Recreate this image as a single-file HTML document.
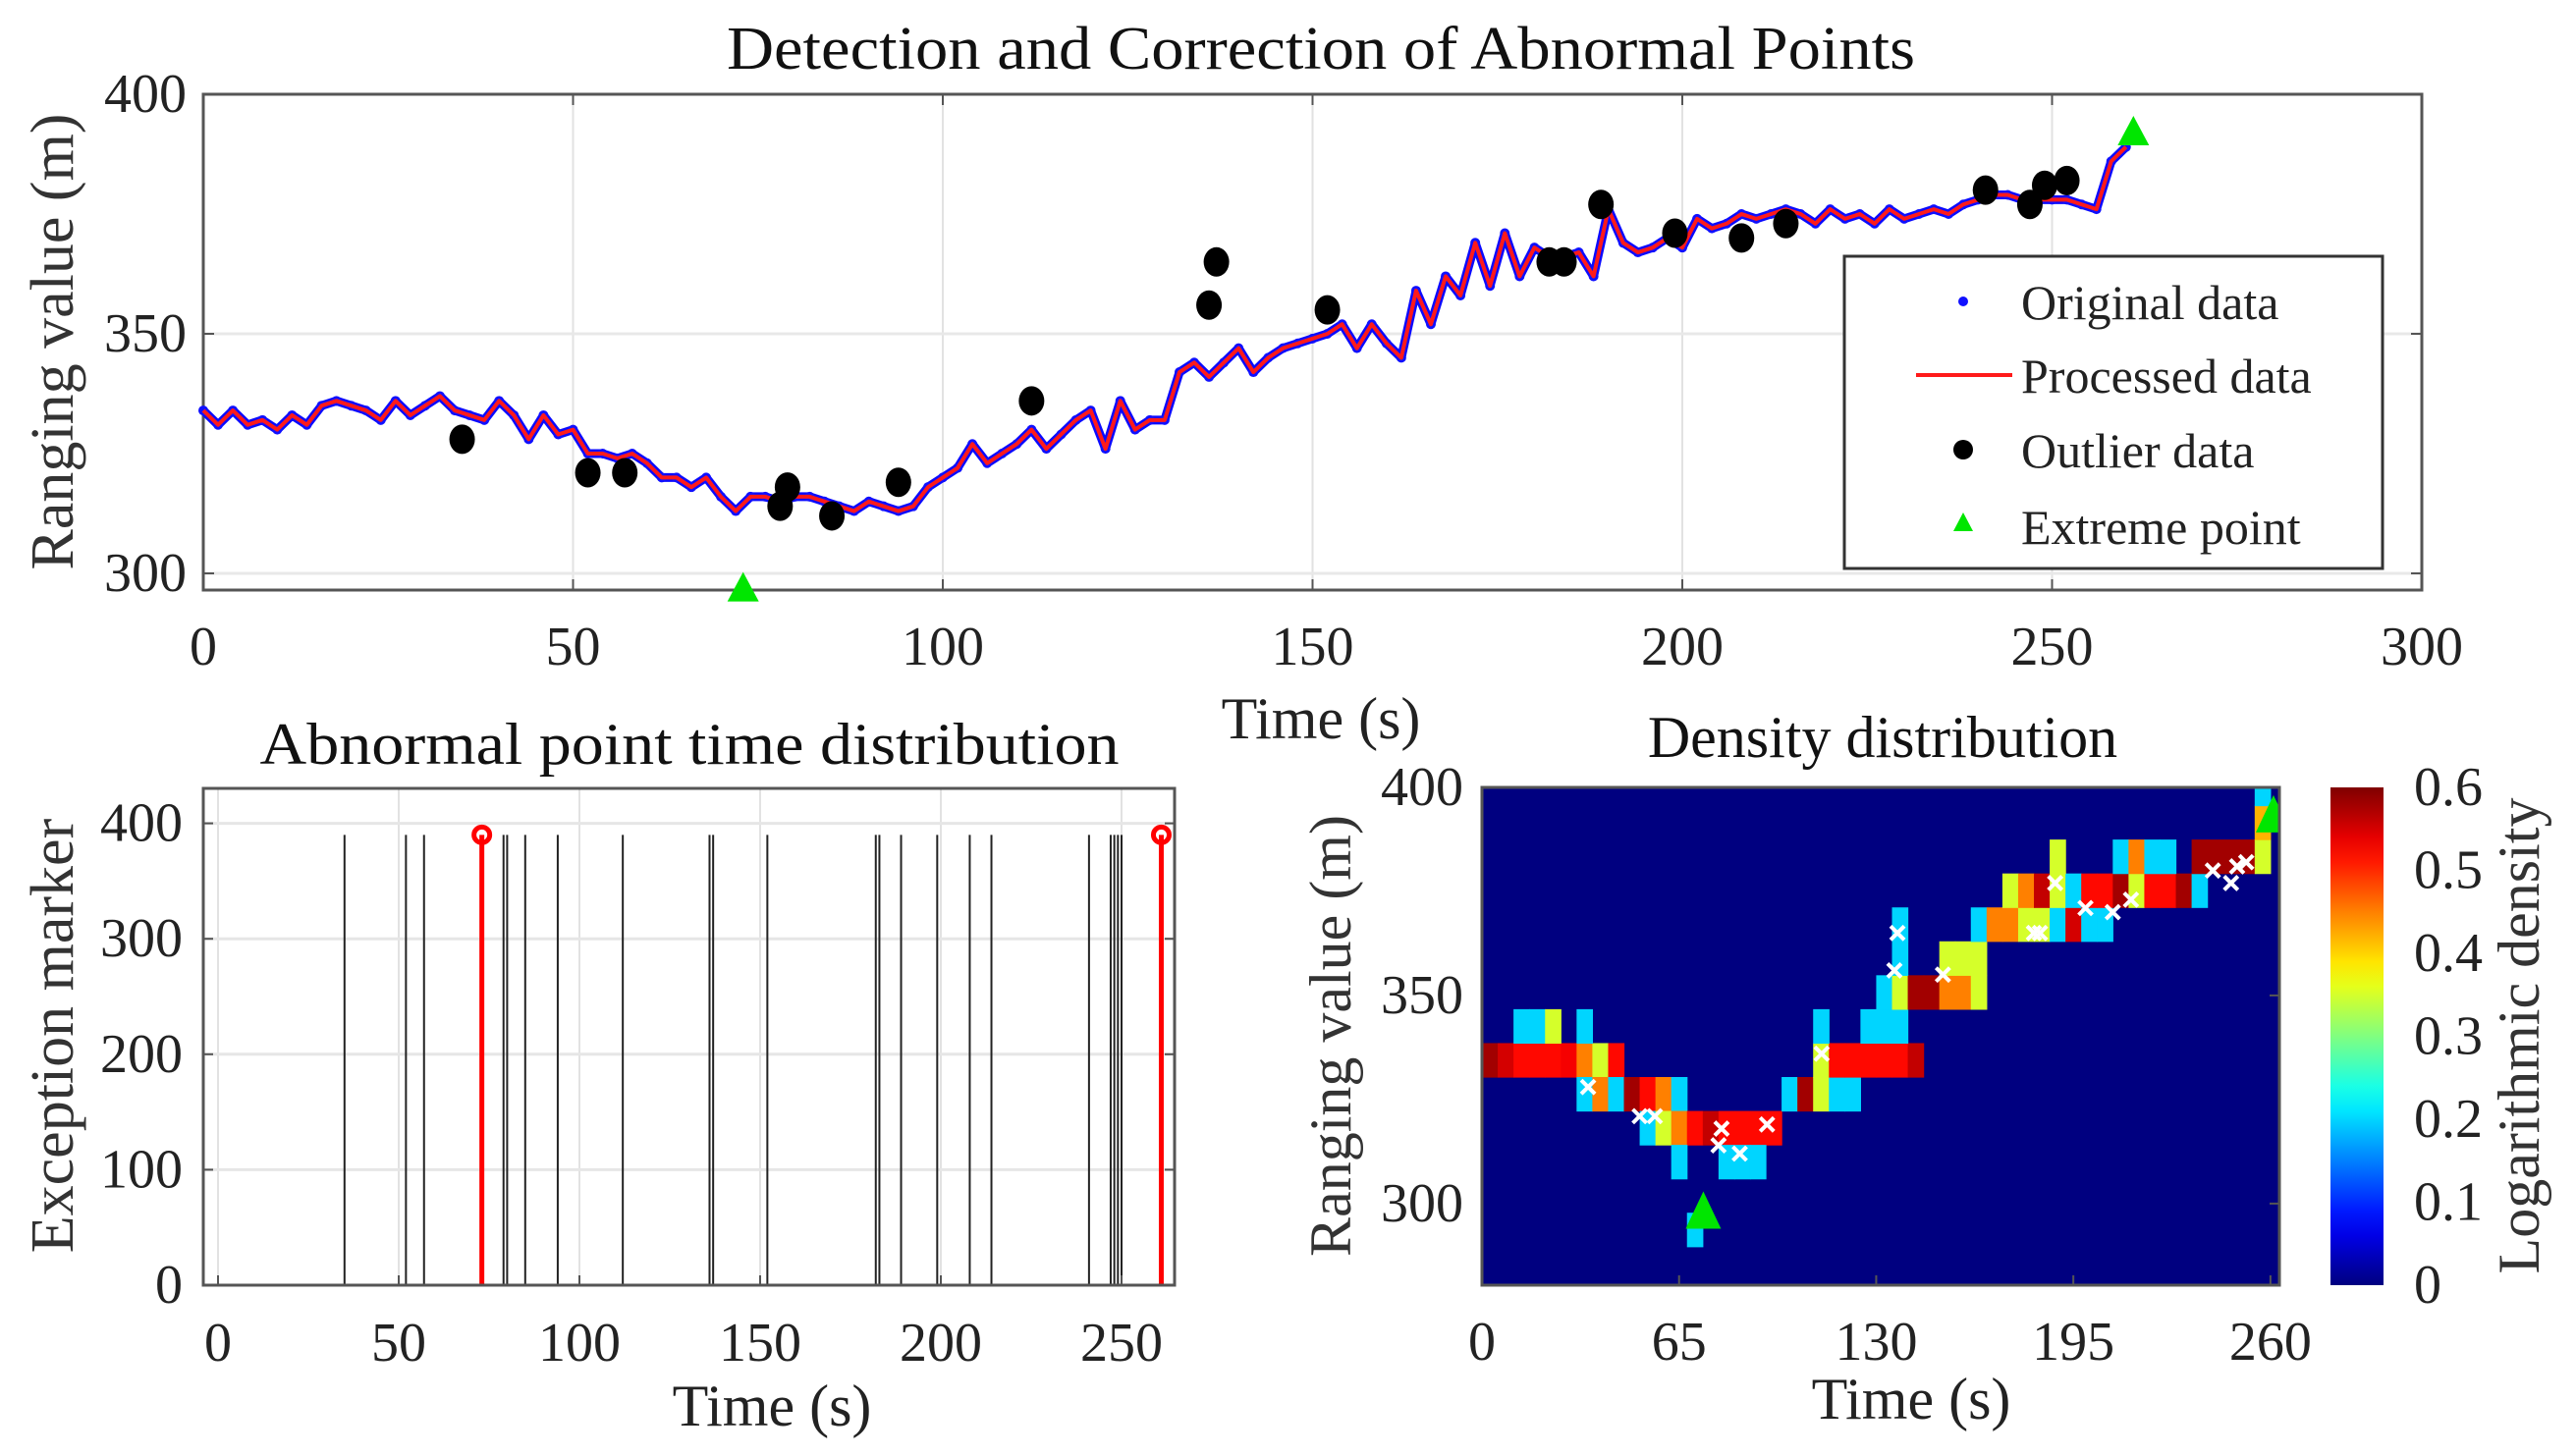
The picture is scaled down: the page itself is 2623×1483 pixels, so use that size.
<!DOCTYPE html>
<html><head><meta charset="utf-8"><style>
html,body{margin:0;padding:0;background:#fff;}
svg{display:block;font-family:"Liberation Serif",serif;}
</style></head><body>
<svg id="fig" width="2623" height="1483" viewBox="0 0 2623 1483" xmlns="http://www.w3.org/2000/svg"></svg>
<script>
// ---------- data ----------
const seriesTime = [0,2,4,6,8,10,12,14,16,18,20,22,24,26,28,30,32,34,36,38,40,42,44,46,48,50,52,54,56,58,60,62,64,66,68,70,72,74,76,78,80,82,84,86,88,90,92,94,96,98,100,102,104,106,108,110,112,114,116,118,120,122,124,126,128,130,132,134,136,138,140,142,144,146,148,150,152,154,156,158,160,162,164,166,168,170,172,174,176,178,180,182,184,186,188,190,192,194,196,198,200,202,204,206,208,210,212,214,216,218,220,222,224,226,228,230,232,234,236,238,240,242,244,246,248,250,252,254,256,258,260];
const seriesValue = [334,331,334,331,332,330,333,331,335,336,335,334,332,336,333,335,337,334,333,332,336,333,328,333,329,330,325,325,324,325,323,320,320,318,320,316,313,316,316,315,316,316,315,314,313,315,314,313,314,318,320,322,327,323,325,327,330,326,329,332,334,326,336,330,332,332,342,344,341,344,347,342,345,347,348,349,350,352,347,352,348,345,359,352,362,358,369,360,371,362,368,366,366,367,362,376,369,367,368,370,368,374,372,373,375,374,375,376,375,373,376,374,375,373,376,374,375,376,375,377,378,379,379,378,378,378,378,377,376,386,389];
const outlierTime = [35,52,57,78,79,85,94,112,136,137,152,182,184,189,199,208,214,241,247,249,252];
const outlierValue = [328,321,321,314,318,312,319,336,356,365,355,365,365,377,371,370,373,380,377,381,382];
const extremeTime = [73,261];
const extremeValue = [296.8,392];
const markerTime = [35,52,57,79,80,85,94,112,136,137,152,182,183,189,199,208,214,241,247,248,249,250];
const markerHeight = [390];
const extremeMarkerTime = [73,261];
const mainXTicks = [0,50,100,150,200,250,300];
const mainYTicks = [300,350,400];
const blXTicks = [0,50,100,150,200,250];
const blYTicks = [0,100,200,300,400];
const dXTicks = [0,65,130,195,260];
const dYTicks = [300,350,400];
const cbTicks = [0,0.1,0.2,0.3,0.4,0.5,0.6];
// density cells: column index (5.2 s bins), row index (8.15 m bins from 281.5), log density
const cellCol = [0,1,2,3,4,5,6,7,8, 2,3,4,6, 6,7,8,9,10,11,12, 10,11,12,13,14,15,16,17,18, 12,15,16,17, 13, 19,20,21,22,23, 21,22,23,24,25,26,27, 21,24,25,26, 25,26,27,28,29,30,31, 26,29,30,31, 26,31,32,33,34,35,36,37,38,39, 33,34,35,36,37,38,39,40,41,42,43,44,45, 36,40,41,42,43,45,46,47,48,49, 49,49];
const cellRow = [6,6,6,6,6,6,6,6,6, 7,7,7,7, 5,5,5,5,5,5,5, 4,4,4,4,4,4,4,4,4, 3,3,3,3, 1, 5,5,5,5,5, 6,6,6,6,6,6,6, 7,7,7,7, 8,8,8,8,8,8,8, 9,9,9,9, 10,10,10,10,10,10,10,10,10,10, 11,11,11,11,11,11,11,11,11,11,11,11,11, 12,12,12,12,12,12,12,12,12,12, 13,14];
const cellVal = [0.58,0.55,0.52,0.52,0.52,0.53,0.45,0.35,0.52, 0.2,0.2,0.35,0.2, 0.2,0.45,0.2,0.58,0.52,0.45,0.2, 0.2,0.35,0.45,0.52,0.56,0.52,0.52,0.52,0.52, 0.2,0.2,0.2,0.2, 0.2, 0.2,0.58,0.35,0.2,0.2, 0.35,0.52,0.52,0.52,0.52,0.52,0.56, 0.2,0.2,0.2,0.2, 0.2,0.35,0.58,0.58,0.45,0.45,0.35, 0.2,0.35,0.35,0.35, 0.2,0.2,0.45,0.45,0.35,0.35,0.2,0.55,0.2,0.2, 0.35,0.45,0.56,0.35,0.2,0.52,0.52,0.58,0.35,0.52,0.52,0.58,0.2, 0.35,0.2,0.45,0.2,0.2,0.58,0.58,0.58,0.58,0.35, 0.42,0.2];

// ---------- helpers ----------
const NS = 'http://www.w3.org/2000/svg';
const svg = document.getElementById('fig');
function mk(tag, attrs, parent){ const e=document.createElementNS(NS,tag); for(const k in attrs) e.setAttribute(k,attrs[k]); (parent||svg).appendChild(e); return e; }
function txt(s, attrs, parent){ const e=mk('text',attrs,parent); e.textContent=s; return e; }
function jet(v){ let t=Math.max(0,Math.min(1,v/0.6)); const c=x=>Math.round(255*Math.max(0,Math.min(1,x)));
  const r=c(1.5-Math.abs(4*t-3)), g=c(1.5-Math.abs(4*t-2)), b=c(1.5-Math.abs(4*t-1)); return `rgb(${r},${g},${b})`; }

// ---------- main plot ----------
const mx = t => 207 + t*7.53, my = v => 96 + (400-v)*4.88;
const gMain = mk('g',{});


mk('rect',{x:207,y:96,width:2259,height:505,fill:'#fff'},gMain);
mainXTicks.forEach(t=>{ if(t>0&&t<300){ const l=mk('line',{x1:mx(t),x2:mx(t),y1:96,y2:601,stroke:'#e2e2e2','stroke-width':2},gMain);   }});
mainYTicks.forEach(v=>{ if(v<400){ const l=mk('line',{x1:207,x2:2466,y1:my(v),y2:my(v),stroke:'#e8e8e8','stroke-width':3},gMain);   }});
mk('rect',{x:207,y:96,width:2259,height:505,fill:'none',stroke:'#555','stroke-width':3},gMain);
mainXTicks.forEach(t=>{ mk('line',{x1:mx(t),x2:mx(t),y1:601,y2:590,stroke:'#555','stroke-width':2},gMain); mk('line',{x1:mx(t),x2:mx(t),y1:96,y2:107,stroke:'#555','stroke-width':2},gMain);
  const e=txt(String(t),{x:mx(t),y:677,'font-size':56,'text-anchor':'middle',fill:'#222'},gMain);   });
mainYTicks.forEach(v=>{ mk('line',{x1:207,x2:218,y1:my(v),y2:my(v),stroke:'#555','stroke-width':2},gMain); mk('line',{x1:2466,x2:2455,y1:my(v),y2:my(v),stroke:'#555','stroke-width':2},gMain);
  const e=txt(String(v),{x:190,y:my(v)+18,'font-size':56,'text-anchor':'end',fill:'#222'},gMain);   });
const pts = seriesTime.map((t,i)=>mx(t)+','+my(seriesValue[i])).join(' ');
const pl = mk('polyline',{points:pts,fill:'none',stroke:'#0a0aff','stroke-width':9,'stroke-linejoin':'round'},gMain);
 
seriesTime.forEach((t,i)=>{ const c=mk('circle',{cx:mx(t),cy:my(seriesValue[i]),r:5,fill:'#1010ff'},gMain);   });
const rl = mk('polyline',{points:pts,fill:'none',stroke:'#ff1a1a','stroke-width':4,'stroke-linejoin':'round'},gMain);
 
outlierTime.forEach((t,i)=>{ const c=mk('ellipse',{cx:mx(t),cy:my(outlierValue[i]),rx:13,ry:15,fill:'#000'},gMain);   });
extremeTime.forEach((t,i)=>{ const x=mx(t), y=my(extremeValue[i]); const p=mk('polygon',{points:`${x},${y-17} ${x-16},${y+13} ${x+16},${y+13}`,fill:'#00e600'},gMain);   });
// legend
const lg = mk('g',{},gMain);  
mk('rect',{x:1878,y:261,width:548,height:318,fill:'#fff',stroke:'#333','stroke-width':3},lg);
mk('circle',{cx:1999,cy:307,r:5,fill:'#1010ff'},lg);
mk('line',{x1:1951,x2:2049,y1:382,y2:382,stroke:'#ff1a1a','stroke-width':4},lg);
mk('circle',{cx:1999,cy:458,r:10,fill:'#000'},lg);
mk('polygon',{points:'1999,522 1989,541 2009,541',fill:'#00e600'},lg);
[['Original data',307],['Processed data',382],['Outlier data',458],['Extreme point',536]].forEach(([s,y])=>{ const e=txt(s,{x:2058,y:y+18,'font-size':50,fill:'#222'},lg);   });
let e;
e=txt('Detection and Correction of Abnormal Points',{x:1345,y:70,'font-size':62,'text-anchor':'middle',fill:'#111',textLength:1210,lengthAdjust:'spacingAndGlyphs'});  
e=txt('Ranging value (m)',{x:0,y:0,'font-size':62,'text-anchor':'middle',fill:'#333',transform:'translate(74,348) rotate(-90)'});  
e=txt('Time (s)',{x:1345,y:752,'font-size':60,'text-anchor':'middle',fill:'#222'});  

// ---------- bottom-left ----------
const bx = t => 222 + t*3.68, by = v => 1309 - v*1.176;
const gB = mk('g',{});  
blXTicks.forEach(t=>{ mk('line',{x1:bx(t),x2:bx(t),y1:803,y2:1309,stroke:'#e2e2e2','stroke-width':2},gB); });
blYTicks.forEach(v=>{ mk('line',{x1:207,x2:1196,y1:by(v),y2:by(v),stroke:'#e6e6e6','stroke-width':3},gB); });
markerTime.forEach(t=>{ const l=mk('line',{x1:bx(t),x2:bx(t),y1:by(0),y2:by(markerHeight[0]),stroke:'#222','stroke-width':2},gB);   });
extremeMarkerTime.forEach(t=>{ const l=mk('line',{x1:bx(t),x2:bx(t),y1:by(0),y2:by(markerHeight[0]),stroke:'#f00','stroke-width':5},gB);  
  const c=mk('circle',{cx:bx(t),cy:by(markerHeight[0]),r:8,fill:'none',stroke:'#f00','stroke-width':5},gB);   });
mk('rect',{x:207,y:803,width:989,height:506,fill:'none',stroke:'#555','stroke-width':3},gB);
blXTicks.forEach(t=>{ mk('line',{x1:bx(t),x2:bx(t),y1:1309,y2:1299,stroke:'#555','stroke-width':2},gB);
  const e=txt(String(t),{x:bx(t),y:1386,'font-size':56,'text-anchor':'middle',fill:'#222'},gB);   });
blYTicks.forEach(v=>{ mk('line',{x1:207,x2:217,y1:by(v),y2:by(v),stroke:'#555','stroke-width':2},gB); mk('line',{x1:1196,x2:1186,y1:by(v),y2:by(v),stroke:'#555','stroke-width':2},gB);
  const e=txt(String(v),{x:186,y:by(v)+18,'font-size':56,'text-anchor':'end',fill:'#222'},gB);   });
e=txt('Abnormal point time distribution',{x:702,y:778,'font-size':60,'text-anchor':'middle',fill:'#111',textLength:875,lengthAdjust:'spacingAndGlyphs'},gB);  
e=txt('Exception marker',{x:0,y:0,'font-size':62,'text-anchor':'middle',fill:'#333',transform:'translate(74,1055) rotate(-90)'},gB);  
e=txt('Time (s)',{x:786,y:1452,'font-size':60,'text-anchor':'middle',fill:'#222'},gB);  

// ---------- density ----------
const dx = t => 1509 + t*3.088, dy = v => 1309 - (v-280.4)*4.24;
const colW = 5.2, rowH = 8.15, rowBase = 281.5;
const gD = mk('g',{});  
const clip = mk('clipPath',{id:'dclip'},gD); mk('rect',{x:1509,y:802,width:812,height:507},clip);
const gDc = mk('g',{'clip-path':'url(#dclip)'},gD);
mk('rect',{x:1509,y:802,width:812,height:507,fill:jet(0)},gDc);
cellCol.forEach((c,i)=>{ const x0=dx(c*colW), x1=dx((c+1)*colW), y0=dy(rowBase+(cellRow[i]+1)*rowH), y1=dy(rowBase+cellRow[i]*rowH);
  const r=mk('rect',{x:x0,y:y0,width:x1-x0+0.6,height:y1-y0+0.6,fill:jet(cellVal[i])},gDc);   });
outlierTime.forEach((t,i)=>{ const x=dx(t), y=dy(outlierValue[i]); const p=mk('path',{d:`M${x-7},${y-7}L${x+7},${y+7}M${x-7},${y+7}L${x+7},${y-7}`,stroke:'#fff','stroke-width':4},gDc);   });
extremeTime.forEach((t,i)=>{ const x=dx(t), y=dy(extremeValue[i]); const p=mk('polygon',{points:`${x},${y-26} ${x-18},${y+12} ${x+18},${y+12}`,fill:'#00e600'},gDc);   });
mk('rect',{x:1509,y:802,width:812,height:507,fill:'none',stroke:'#555','stroke-width':3},gD);
dXTicks.forEach(t=>{ mk('line',{x1:dx(t),x2:dx(t),y1:1309,y2:1299,stroke:'#555','stroke-width':2},gD);
  const e=txt(String(t),{x:dx(t),y:1385,'font-size':56,'text-anchor':'middle',fill:'#222'},gD);   });
dYTicks.forEach(v=>{ mk('line',{x1:2321,x2:2311,y1:dy(v),y2:dy(v),stroke:'#555','stroke-width':2},gD);
  const e=txt(String(v),{x:1490,y:dy(v)+18,'font-size':56,'text-anchor':'end',fill:'#222'},gD);   });
e=txt('Density distribution',{x:1917,y:771,'font-size':60,'text-anchor':'middle',fill:'#111'},gD);  
e=txt('Ranging value (m)',{x:0,y:0,'font-size':60,'text-anchor':'middle',fill:'#333',transform:'translate(1375,1055) rotate(-90)'},gD);  
e=txt('Time (s)',{x:1946,y:1445,'font-size':60,'text-anchor':'middle',fill:'#222'},gD);  
// colorbar
const gC = mk('g',{});  
const grad = mk('linearGradient',{id:'jetg',x1:0,y1:1,x2:0,y2:0},gC);
for(let k=0;k<=20;k++){ mk('stop',{offset:k/20,'stop-color':jet(0.6*k/20)},grad); }
mk('rect',{x:2373,y:802,width:54,height:507,fill:'url(#jetg)'},gC);
const cy = v => 1309 - v/0.6*507;
cbTicks.forEach(v=>{ const e=txt(String(v),{x:2458,y:cy(v)+18,'font-size':56,fill:'#222'},gC);   });
e=txt('Logarithmic density',{x:0,y:0,'font-size':60,'text-anchor':'middle',fill:'#333',transform:'translate(2585,1055) rotate(-90)'},gC);  
</script>
</body></html>
